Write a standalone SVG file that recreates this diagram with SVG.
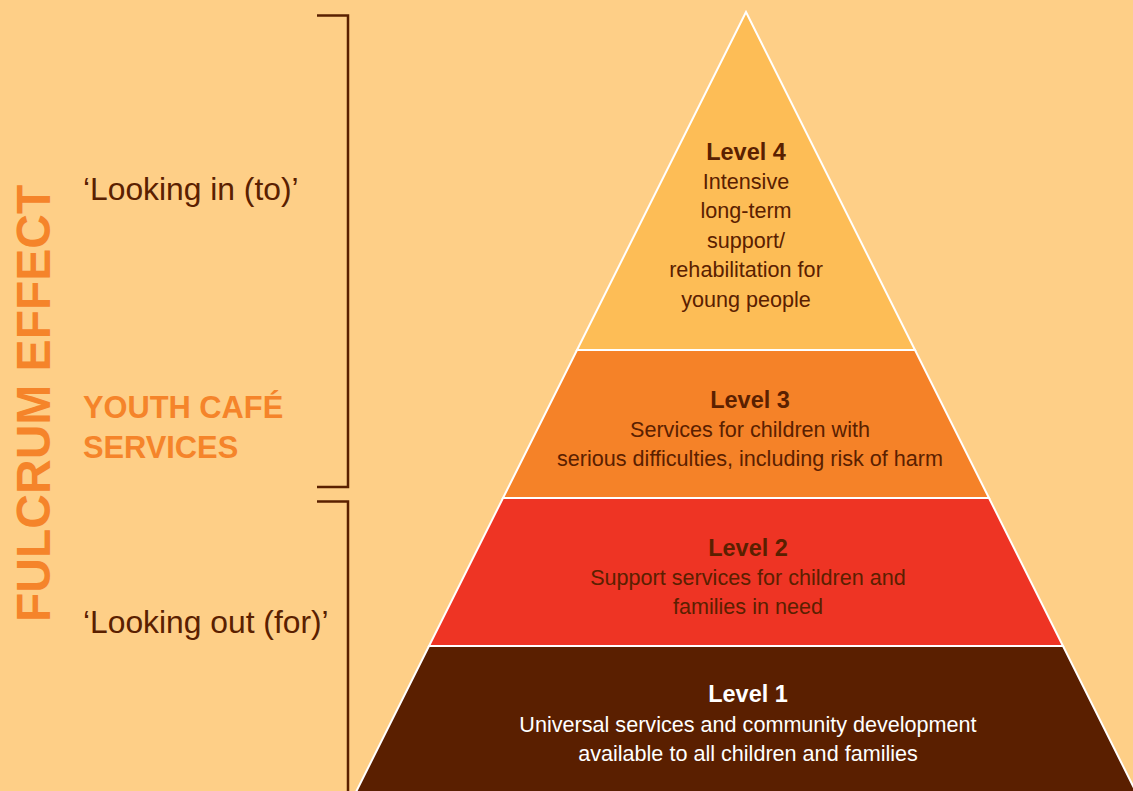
<svg xmlns="http://www.w3.org/2000/svg" width="1133" height="791" viewBox="0 0 1133 791">
<style>
.lvl{stroke:#ffffff;stroke-width:2;stroke-linejoin:miter}
.t{font-family:"Liberation Sans",Arial,sans-serif;text-anchor:middle;font-size:21.6px}
.b{font-weight:bold;font-size:23.5px}
.dk{fill:#5a2000}
.wh{fill:#ffffff}
.side{font-family:"Liberation Sans",Arial,sans-serif;font-size:31.8px;fill:#5a2000}
.or{font-family:"Liberation Sans",Arial,sans-serif;font-weight:bold;fill:#f5842a}
.br{fill:none;stroke:#5a2000;stroke-width:2.5}
</style>
<rect width="1133" height="791" fill="#fecf87"/>
<g id="labels">
<text class="or" font-size="48" transform="translate(50,622) rotate(-90)">FULCRUM EFFECT</text>
<text class="side" x="83" y="200">‘Looking in (to)’</text>
<text class="or" font-size="30.8" x="83" y="418">YOUTH CAFÉ</text>
<text class="or" font-size="30.8" x="83" y="458">SERVICES</text>
<text class="side" x="83" y="633">‘Looking out (for)’</text>
</g>
<g id="brackets">
<polyline class="br" points="317,15.5 348,15.5 348,487 317,487"/>
<polyline class="br" points="317,501.5 348,501.5 348,791"/>
</g>
<g id="level4">
<polygon class="lvl" fill="#fdbd56" points="746,12 915,350 577,350"/>
<text class="t b dk" x="746" y="160">Level 4</text>
<text class="t dk" x="746" y="189">Intensive</text>
<text class="t dk" x="746" y="218">long-term</text>
<text class="t dk" x="746" y="248">support/</text>
<text class="t dk" x="746" y="277">rehabilitation for</text>
<text class="t dk" x="746" y="307">young people</text>
</g>
<g id="level3">
<polygon class="lvl" fill="#f58228" points="577,350 915,350 989,498 503,498"/>
<text class="t b dk" x="750" y="408">Level 3</text>
<text class="t dk" x="750" y="437">Services for children with</text>
<text class="t dk" x="750" y="466">serious difficulties, including risk of harm</text>
</g>
<g id="level2">
<polygon class="lvl" fill="#ee3424" points="503,498 989,498 1063,646 429,646"/>
<text class="t b dk" x="748" y="556">Level 2</text>
<text class="t dk" x="748" y="585">Support services for children and</text>
<text class="t dk" x="748" y="614">families in need</text>
</g>
<g id="level1">
<polygon class="lvl" fill="#5a1f00" points="429,646 1063,646 1136,792 356,792"/>
<text class="t b wh" x="748" y="702">Level 1</text>
<text class="t wh" x="748" y="732">Universal services and community development</text>
<text class="t wh" x="748" y="761">available to all children and families</text>
</g>
</svg>
